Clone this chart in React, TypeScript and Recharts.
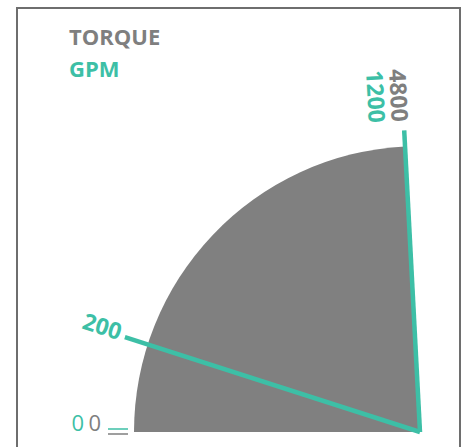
import React from "react";
import { PieChart, Pie, Legend } from "recharts";

// series shown in the legend
const SERIES = ["TORQUE", "GPM"];
const SERIES_COLORS = ["#7f7f7f", "#3dbfa6"];

// gauge scales (min, max)
const TORQUE_SCALE = [0, 4800];
const GPM_SCALE = [0, 1200];

// current readings
const TORQUE_READING = [4800];
const GPM_READING = [246]; // needle position
const GPM_READING_LABELS = ["200"];

const CX = 420;
const CY = 432;
const START_ANGLE = 180;
const END_ANGLE = 93;
const RADIAN = Math.PI / 180;
const FONT = "'Open Sans', 'DejaVu Sans', sans-serif";

const polar = (cx: number, cy: number, r: number, angle: number) => ({
  x: cx + r * Math.cos(-angle * RADIAN),
  y: cy + r * Math.sin(-angle * RADIAN),
});

// text that reads along a ray toward the gauge centre, ending at radius r
const RayText = ({ cx, cy, angle, r, dy, text, color, bold }: any) => {
  const p = polar(cx, cy, r, angle);
  return (
    <text
      x={p.x}
      y={p.y}
      dy={dy}
      transform={`rotate(${180 - angle}, ${p.x}, ${p.y})`}
      textAnchor="end"
      fill={color}
      fontSize={bold ? 23 : 22}
      fontWeight={bold ? 700 : 400}
      fontFamily={FONT}
    >
      {text}
    </text>
  );
};

// a line along a ray, shifted sideways by offset
const RayLine = ({ cx, cy, angle, r0, r1, offset = 0, color, width }: any) => {
  const a = polar(cx, cy, r0, angle);
  const b = polar(cx, cy, r1, angle);
  const rot = (180 - angle) * RADIAN;
  const px = -Math.sin(rot) * offset;
  const py = Math.cos(rot) * offset;
  return (
    <line
      x1={a.x + px}
      y1={a.y + py}
      x2={b.x + px}
      y2={b.y + py}
      stroke={color}
      strokeWidth={width}
    />
  );
};

const torqueLabel = (props: any) => {
  const { cx, cy, startAngle, endAngle, index } = props;
  if (index !== 0) return null;
  const c = SERIES_COLORS[0];
  return (
    <g>
      <RayLine cx={cx} cy={cy} angle={startAngle} r0={292} r1={312} offset={2} color={c} width={1.5} />
      <RayText cx={cx} cy={cy} angle={startAngle} r={319} dy={-1} text={String(TORQUE_SCALE[0])} color={c} />
      <RayText cx={cx} cy={cy} angle={endAngle} r={311} dy={12} text={String(TORQUE_READING[0])} color={c} bold />
    </g>
  );
};

const gpmLabel = (props: any) => {
  const { cx, cy, startAngle, endAngle, index } = props;
  const c = SERIES_COLORS[1];
  if (index === 0) {
    return (
      <g>
        <RayLine cx={cx} cy={cy} angle={startAngle} r0={292} r1={312} offset={-3} color={c} width={1.5} />
        <RayText cx={cx} cy={cy} angle={startAngle} r={336} dy={-1} text={String(GPM_SCALE[0])} color={c} />
        <RayLine cx={cx} cy={cy} angle={endAngle} r0={0} r1={310} color={c} width={4.5} />
        <RayText cx={cx} cy={cy} angle={endAngle} r={315} dy={5} text={GPM_READING_LABELS[0]} color={c} bold />
      </g>
    );
  }
  return (
    <g>
      <RayLine cx={cx} cy={cy} angle={endAngle} r0={0} r1={302} color={c} width={4.5} />
      <RayText cx={cx} cy={cy} angle={endAngle} r={311} dy={35} text={String(GPM_SCALE[1])} color={c} bold />
    </g>
  );
};

const torqueData = [
  { name: "reading", value: TORQUE_READING[0] - TORQUE_SCALE[0] },
  { name: "rest", value: TORQUE_SCALE[1] - TORQUE_READING[0] },
];
const gpmData = [
  { name: "reading", value: GPM_READING[0] - GPM_SCALE[0] },
  { name: "rest", value: GPM_SCALE[1] - GPM_READING[0] },
];

const LegendContent = () => (
  <div style={{ fontFamily: FONT, fontSize: 22, fontWeight: 700, lineHeight: "32px" }}>
    {SERIES.map((s, i) => (
      <div key={s} style={{ color: SERIES_COLORS[i] }}>
        {s}
      </div>
    ))}
  </div>
);

export default function App() {
  return (
    <div
      style={{
        position: "absolute",
        left: 0,
        top: 0,
        width: 463,
        height: 447,
        overflow: "hidden",
        background: "#fff",
        fontFamily: FONT,
      }}
    >
      <div
        style={{
          position: "absolute",
          left: 16,
          top: 7,
          width: 445,
          height: 470,
          border: "2px solid #6e6e6e",
          boxSizing: "border-box",
        }}
      />
      <div style={{ position: "absolute", left: 0, top: 0 }}>
        <PieChart width={463} height={447} margin={{ top: 0, right: 0, bottom: 0, left: 0 }}>
          <Legend
            content={<LegendContent />}
            wrapperStyle={{ left: 69, top: 20, width: "auto", height: "auto" }}
          />
          <Pie
            data={torqueData}
            dataKey="value"
            cx={CX}
            cy={CY}
            startAngle={START_ANGLE}
            endAngle={END_ANGLE}
            innerRadius={0}
            outerRadius={286}
            stroke="none"
            fill="#808080"
            isAnimationActive={false}
            labelLine={false}
            label={torqueLabel}
          />
          <Pie
            data={gpmData}
            dataKey="value"
            cx={CX}
            cy={CY}
            startAngle={START_ANGLE}
            endAngle={END_ANGLE}
            innerRadius={0}
            outerRadius={286}
            stroke="none"
            fill="transparent"
            isAnimationActive={false}
            labelLine={false}
            label={gpmLabel}
          />
        </PieChart>
      </div>
    </div>
  );
}
